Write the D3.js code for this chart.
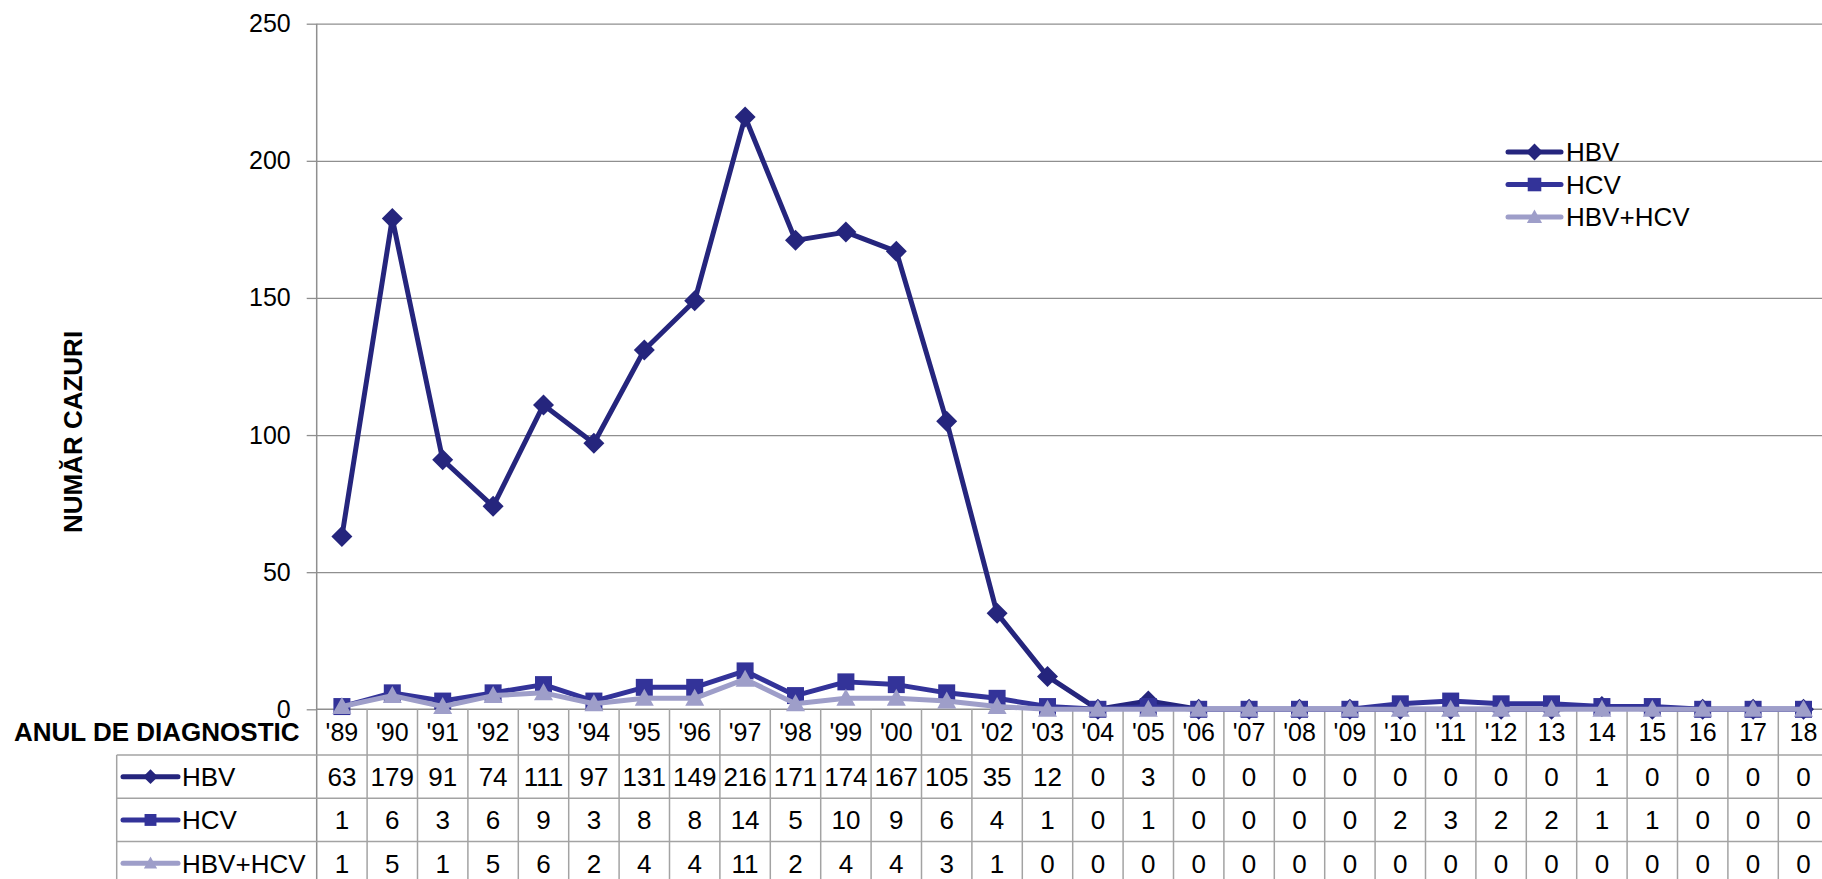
<!DOCTYPE html>
<head>
<meta charset="utf-8">
<script src="https://d3js.org/d3.v7.min.js"></script>
<style>
body {
    margin: 0;
    background: #fff;
}

svg {
    display: block;
    font-family: "Liberation Sans", Arial, sans-serif;
}

.grid line {
    stroke: #8f8f8f;
    stroke-width: 1.3;
}

.grid path,
.axis--y path,
.axis--x path {
    display: none;
}

.axis--y line {
    stroke: #8f8f8f;
    stroke-width: 1.3;
}

.axis--y text,
.axis--x text {
    font-size: 25px;
    fill: #000;
}

.table line {
    stroke: #a3a3a3;
    stroke-width: 1.5;
}

.cell {
    font-size: 26px;
    fill: #000;
    text-anchor: middle;
}

.key-label {
    font-size: 26px;
    fill: #000;
}

.title {
    font-size: 26px;
    font-weight: bold;
    fill: #000;
}
</style>
</head>

<body>
<script>
var categories = ["'89", "'90", "'91", "'92", "'93", "'94", "'95", "'96", "'97", "'98",
    "'99", "'00", "'01", "'02", "'03", "'04", "'05", "'06", "'07", "'08",
    "'09", "'10", "'11", "'12", "13", "14", "15", "16", "17", "18"];

var hbv = [63, 179, 91, 74, 111, 97, 131, 149, 216, 171, 174, 167, 105, 35, 12,
    0, 3, 0, 0, 0, 0, 0, 0, 0, 0, 1, 0, 0, 0, 0];
var hcv = [1, 6, 3, 6, 9, 3, 8, 8, 14, 5, 10, 9, 6, 4, 1,
    0, 1, 0, 0, 0, 0, 2, 3, 2, 2, 1, 1, 0, 0, 0];
var hbvHcv = [1, 5, 1, 5, 6, 2, 4, 4, 11, 2, 4, 4, 3, 1, 0,
    0, 0, 0, 0, 0, 0, 0, 0, 0, 0, 0, 0, 0, 0, 0];

var yTicks = [0, 50, 100, 150, 200, 250];

var seriesNames = ["HBV", "HCV", "HBV+HCV"];

var width = 1822,
    height = 879;
var plot = { left: 316.7, top: 23.7, bottom: 709.3 };
var colW = 50.4;
var headerBottom = 755,
    rowH = 43.3,
    tableLeft = 116.7;

var series = [
    { name: seriesNames[0], values: hbv, color: "#25257d", marker: "diamond" },
    { name: seriesNames[1], values: hcv, color: "#333399", marker: "square" },
    { name: seriesNames[2], values: hbvHcv, color: "#9e9ec9", marker: "triangle" }
];

// marker shapes, s = scale
function markerPath(type, s) {
    if (type === "diamond") return "M0," + (-10.5 * s) + "L" + (10.5 * s) + ",0L0," + (10.5 * s) + "L" + (-10.5 * s) + ",0Z";
    if (type === "square") return "M" + (-8.5 * s) + "," + (-8.5 * s) + "h" + (17 * s) + "v" + (17 * s) + "h" + (-17 * s) + "Z";
    return "M0," + (-9.5 * s) + "L" + (9.5 * s) + "," + (7.5 * s) + "L" + (-9.5 * s) + "," + (7.5 * s) + "Z";
}

var svg = d3.select("body").append("svg")
    .attr("width", width)
    .attr("height", height);

var x = d3.scaleBand()
    .domain(categories)
    .range([plot.left, plot.left + categories.length * colW]);

var y = d3.scaleLinear()
    .domain([0, 250])
    .range([plot.bottom, plot.top]);

// gridlines
svg.append("g")
    .attr("class", "grid")
    .attr("transform", "translate(" + plot.left + ",0)")
    .call(d3.axisLeft(y).tickValues(yTicks.slice(1)).tickSize(-(width - plot.left)).tickFormat(""));

svg.append("g")
    .attr("class", "axis--y")
    .attr("transform", "translate(" + plot.left + ",0)")
    .call(d3.axisLeft(y).tickValues(yTicks).tickSize(10).tickPadding(16));

// data table lines
var table = svg.append("g").attr("class", "table");

table.append("line")
    .attr("x1", plot.left).attr("x2", plot.left)
    .attr("y1", plot.top).attr("y2", height)
    .style("stroke", "#8f8f8f");

table.append("line")
    .attr("x1", plot.left).attr("x2", width)
    .attr("y1", plot.bottom).attr("y2", plot.bottom)
    .style("stroke", "#8f8f8f");

table.selectAll(".col-line")
    .data(categories.slice(1).concat(["end"]))
    .enter().append("line")
    .attr("class", "col-line")
    .attr("x1", function(d) { return d === "end" ? x.range()[1] : x(d); })
    .attr("x2", function(d) { return d === "end" ? x.range()[1] : x(d); })
    .attr("y1", plot.bottom)
    .attr("y2", height);

table.selectAll(".row-line")
    .data(d3.range(series.length))
    .enter().append("line")
    .attr("class", "row-line")
    .attr("x1", tableLeft)
    .attr("x2", width)
    .attr("y1", function(i) { return headerBottom + i * rowH; })
    .attr("y2", function(i) { return headerBottom + i * rowH; });

table.append("line")
    .attr("x1", tableLeft).attr("x2", tableLeft)
    .attr("y1", headerBottom).attr("y2", height);

// category labels in header row
svg.append("g")
    .attr("class", "axis--x")
    .attr("transform", "translate(0," + plot.bottom + ")")
    .call(d3.axisBottom(x).tickSize(0).tickPadding(14));

// values in table
series.forEach(function(s, i) {
    svg.selectAll(".cell-" + i)
        .data(s.values)
        .enter().append("text")
        .attr("class", "cell cell-" + i)
        .attr("x", function(d, j) { return x(categories[j]) + x.bandwidth() / 2; })
        .attr("y", headerBottom + i * rowH + rowH / 2)
        .attr("dy", "0.36em")
        .text(function(d) { return d; });
});

// lines and markers
var line = d3.line()
    .x(function(d, j) { return x(categories[j]) + x.bandwidth() / 2; })
    .y(function(d) { return y(d); });

series.forEach(function(s) {
    svg.append("path")
        .datum(s.values)
        .attr("fill", "none")
        .attr("stroke", s.color)
        .attr("stroke-width", 5)
        .attr("stroke-linejoin", "round")
        .attr("d", line);

    svg.selectAll(".m-" + s.marker)
        .data(s.values)
        .enter().append("path")
        .attr("class", "m-" + s.marker)
        .attr("transform", function(d, j) {
            return "translate(" + (x(categories[j]) + x.bandwidth() / 2) + "," + y(d) + ")";
        })
        .attr("d", markerPath(s.marker, 1))
        .attr("fill", s.color);
});

// legend keys (table and top right)
function drawKey(g, s, x1, x2, textX, cy, scale) {
    g.append("line")
        .attr("x1", x1).attr("x2", x2)
        .attr("y1", cy).attr("y2", cy)
        .attr("stroke", s.color)
        .attr("stroke-width", 5)
        .attr("stroke-linecap", "round");
    g.append("path")
        .attr("transform", "translate(" + ((x1 + x2) / 2) + "," + cy + ")")
        .attr("d", markerPath(s.marker, scale))
        .attr("fill", s.color);
    g.append("text")
        .attr("class", "key-label")
        .attr("x", textX)
        .attr("y", cy)
        .attr("dy", "0.36em")
        .text(s.name);
}

var keys = svg.append("g");
series.forEach(function(s, i) {
    drawKey(keys, s, 123, 178, 182, headerBottom + i * rowH + rowH / 2, 0.7);
    drawKey(keys, s, 1508, 1561, 1566, 152 + i * 32.5, 0.8);
});

// titles
svg.append("text")
    .attr("class", "title")
    .attr("x", 14)
    .attr("y", 732)
    .attr("dy", "0.36em")
    .text("ANUL DE DIAGNOSTIC");

svg.append("text")
    .attr("class", "title")
    .attr("transform", "translate(73,432) rotate(-90)")
    .attr("dy", "0.36em")
    .style("text-anchor", "middle")
    .text("NUMĂR CAZURI");
</script>
</body>
